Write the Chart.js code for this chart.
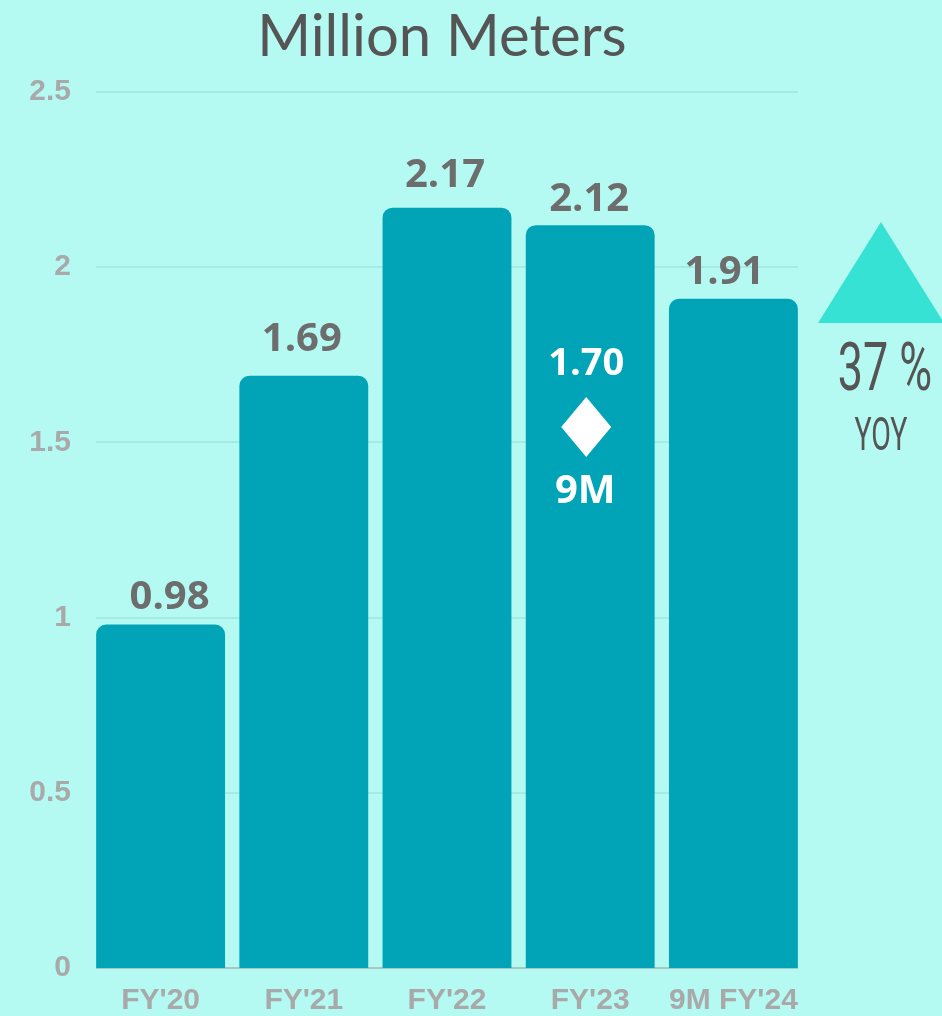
<!DOCTYPE html>
<html>
<head>
<meta charset="utf-8">
<script src="https://cdn.jsdelivr.net/npm/chart.js@4.4.1/dist/chart.umd.min.js"></script>
<style>
  html, body { margin: 0; padding: 0; background: #B5FAF2; }
  #wrap { width: 942px; height: 1016px; position: relative; }
</style>
</head>
<body>
<div id="wrap"><canvas id="chart"></canvas></div>
<script>
// values (million meters)
const categories = ["FY'20", "FY'21", "FY'22", "FY'23", "9M FY'24"];
const meters = [0.98, 1.69, 2.17, 2.12, 1.91];
const yTicks = [0, 0.5, 1, 1.5, 2, 2.5];
const nineMonthFY23 = 1.70;
const yoyGrowth = 37;

const barColor = "#01A3B7";
const labelGrey = "#6d6d6d";
const tickGrey = "#a9a9a9";

// the value labels in the original sit a little off-centre, by hand
const labelNudge = [[9, -16], [-2, -25], [-2, -21], [-1, -14], [-9, -15]];

// gridlines only span the bars, not the whole chart area
const gridPlugin = {
  id: "gridPlugin",
  beforeDatasetsDraw(chart) {
    const { ctx } = chart;
    const meta = chart.getDatasetMeta(0);
    const first = meta.data[0], last = meta.data[meta.data.length - 1];
    const x0 = first.x - first.width / 2;
    const x1 = last.x + last.width / 2;
    const y = chart.scales.y;
    ctx.save();
    ctx.lineWidth = 2;
    yTicks.forEach((v) => {
      const py = Math.round(y.getPixelForValue(v));
      ctx.strokeStyle = v === 0 ? "#a6c8c4" : "rgba(0,90,90,0.09)";
      ctx.beginPath();
      ctx.moveTo(x0, py);
      ctx.lineTo(x1, py);
      ctx.stroke();
    });
    ctx.restore();
  }
};

// title, value labels and the side notes
const notesPlugin = {
  id: "notesPlugin",
  afterDatasetsDraw(chart) {
    const { ctx } = chart;
    const meta = chart.getDatasetMeta(0);
    ctx.save();

    ctx.fillStyle = "#555555";
    ctx.font = "400 58px Lato, sans-serif";
    ctx.textAlign = "center";
    ctx.textBaseline = "alphabetic";
    ctx.fillText("Million Meters", 442, 56);

    ctx.font = "700 40px 'Open Sans', sans-serif";
    ctx.fillStyle = labelGrey;
    meta.data.forEach((bar, i) => {
      ctx.fillText(meters[i].toFixed(2), bar.x + labelNudge[i][0], bar.y + labelNudge[i][1]);
    });

    // 9M FY'23 note inside the FY'23 bar
    const b = meta.data[3];
    const cx = b.x - 4;
    ctx.fillStyle = "#ffffff";
    ctx.font = "700 38px 'Open Sans', sans-serif";
    ctx.fillText(nineMonthFY23.toFixed(2), cx, 375);
    ctx.beginPath();
    ctx.moveTo(cx, 397);
    ctx.lineTo(cx + 25, 427);
    ctx.lineTo(cx, 457);
    ctx.lineTo(cx - 25, 427);
    ctx.closePath();
    ctx.fill();
    ctx.font = "700 40px 'Open Sans', sans-serif";
    ctx.fillText("9M", cx - 1, 503);

    // YoY growth triangle
    ctx.fillStyle = "#36E2D3";
    ctx.beginPath();
    ctx.moveTo(818, 323);
    ctx.lineTo(881, 222);
    ctx.lineTo(944, 323);
    ctx.closePath();
    ctx.fill();

    ctx.fillStyle = "#555555";
    ctx.save();
    ctx.translate(885, 390);
    ctx.scale(0.68, 1);
    ctx.font = "400 66px Roboto, sans-serif";
    ctx.fillText(yoyGrowth + " %", 0, 0);
    ctx.restore();
    ctx.save();
    ctx.translate(881, 450);
    ctx.scale(0.62, 1);
    ctx.font = "400 46px Roboto, sans-serif";
    ctx.fillText("YOY", 0, 0);
    ctx.restore();

    ctx.restore();
  }
};

new Chart(document.getElementById("chart"), {
  type: "bar",
  data: {
    labels: categories,
    datasets: [{
      data: meters,
      backgroundColor: barColor,
      borderRadius: { topLeft: 10, topRight: 10 },
      borderSkipped: false,
      barPercentage: 0.9,
      categoryPercentage: 1
    }]
  },
  plugins: [gridPlugin, notesPlugin],
  options: {
    responsive: true,
    maintainAspectRatio: false,
    animation: false,
    layout: { padding: { top: 92, right: 137, left: 0, bottom: 0 } },
    plugins: {
      legend: { display: false },
      tooltip: { enabled: false }
    },
    scales: {
      x: {
        grid: { display: false },
        border: { display: false },
        ticks: {
          color: tickGrey,
          font: { family: "'Liberation Sans', Arial, sans-serif", size: 30, weight: "700" },
          padding: 7,
          maxRotation: 0,
          autoSkip: false
        },
        afterFit: (s) => { s.height = 48; }
      },
      y: {
        min: 0,
        max: 2.5,
        afterBuildTicks: (s) => { s.ticks = yTicks.map((v) => ({ value: v })); },
        grid: { display: false, drawTicks: false },
        border: { display: false },
        ticks: {
          color: tickGrey,
          font: { family: "'Liberation Sans', Arial, sans-serif", size: 30, weight: "700" },
          padding: 18,
          callback: (v) => String(v)
        },
        afterFit: (s) => { s.width = 89; }
      }
    }
  }
});
</script>
</body>
</html>
